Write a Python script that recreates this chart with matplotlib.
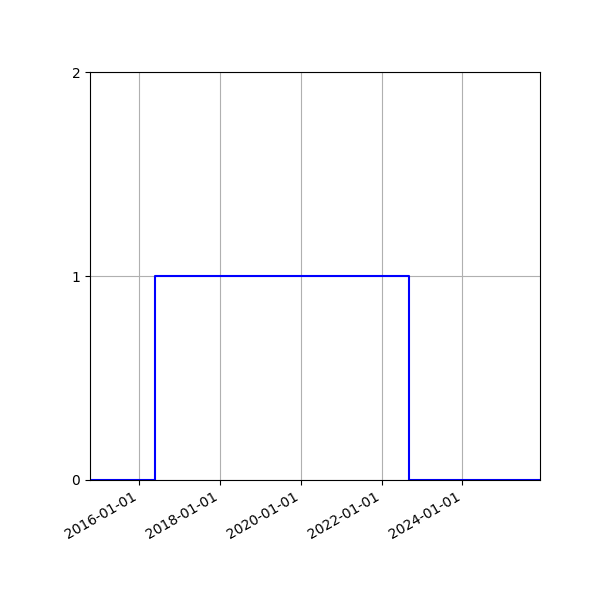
import matplotlib
matplotlib.use("Agg")
import matplotlib.pyplot as plt
import matplotlib.dates as mdates
from datetime import datetime

# step points (state changes)
dates = [datetime(2014, 10, 12), datetime(2016, 5, 25), datetime(2022, 9, 4), datetime(2025, 12, 4)]
states = [0, 1, 0, 0]

fig, ax = plt.subplots(figsize=(6, 6), dpi=100)

ax.step(dates, states, where="post", color="blue")

ax.set_xlim(dates[0], dates[-1])
ax.set_ylim(0, 2)
ax.set_yticks([0, 1, 2])
ax.xaxis.set_major_locator(mdates.YearLocator(2))
ax.xaxis.set_major_formatter(mdates.DateFormatter("%Y-%m-%d"))
ax.grid(True)
fig.autofmt_xdate()
fig.subplots_adjust(left=0.15, right=0.9, top=0.88, bottom=0.2)

fig.savefig("out.png")
